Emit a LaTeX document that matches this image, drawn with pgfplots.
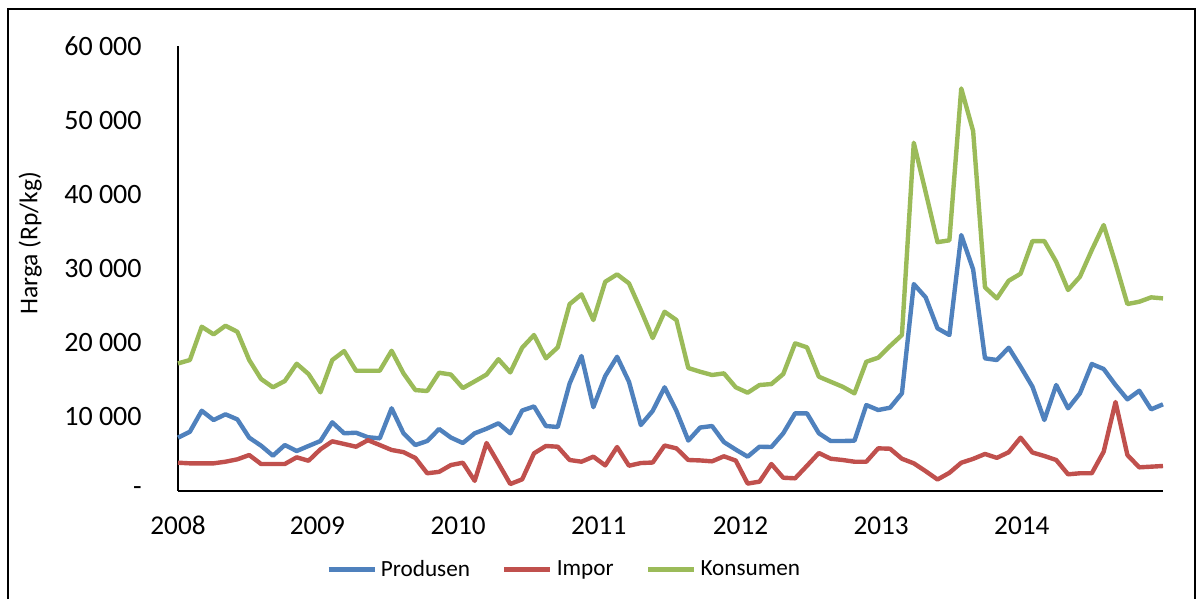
\documentclass[border=0pt]{standalone}
\usepackage{fontspec}
\setmainfont{Carlito}
\usepackage{pgfplots}
\usepackage{pgfplotstable}
\pgfplotsset{compat=1.18}
\definecolor{cblue}{HTML}{4F81BD}
\definecolor{cred}{HTML}{C0504D}
\definecolor{cgreen}{HTML}{9BBB59}

\pgfplotstableread{
i prod impor kons
0 7190 3815 17200
1 7990 3730 17660
2 10820 3730 22150
3 9570 3730 21120
4 10340 3950 22280
5 9660 4270 21470
6 7190 4850 17660
7 6110 3640 15100
8 4760 3640 13980
9 6200 3640 14830
10 5390 4540 17160
11 6070 4080 15770
12 6740 5620 13300
13 9260 6700 17660
14 7780 6340 18870
15 7860 5970 16220
16 7250 6850 16220
17 7100 6200 16220
18 11150 5530 18910
19 7780 5240 15860
20 6200 4450 13610
21 6740 2390 13480
22 8360 2580 15950
23 7200 3500 15700
24 6470 3810 13880
25 7780 1370 14780
26 8400 6470 15700
27 9130 3730 17770
28 7780 940 16000
29 10850 1570 19320
30 11400 5080 21030
31 8760 6070 17890
32 8630 5970 19370
33 14500 4180 25200
34 18200 3950 26510
35 11300 4630 23050
36 15500 3450 28210
37 18100 5930 29210
38 14730 3410 28000
39 8900 3770 24400
40 10800 3840 20620
41 13980 6130 24170
42 10800 5750 23050
43 6800 4180 16580
44 8560 4120 16080
45 8760 4000 15640
46 6600 4680 15860
47 5580 4100 13980
48 4630 1000 13250
49 5970 1260 14290
50 5930 3640 14420
51 7780 1790 15770
52 10470 1710 19910
53 10470 3400 19370
54 7780 5120 15410
55 6740 4350 14730
56 6740 4180 14060
57 6780 3950 13170
58 11590 3950 17430
59 10920 5750 17970
60 11230 5700 19550
61 13170 4350 21030
62 27900 3730 46950
63 26110 2670 40300
64 21930 1550 33550
65 21030 2450 33800
66 34510 3810 54280
67 29880 4330 48530
68 17890 4990 27460
69 17660 4470 25970
70 19320 5230 28350
71 16760 7190 29300
72 14060 5190 33700
73 9570 4720 33700
74 14290 4180 30910
75 11150 2250 27100
76 13170 2390 28890
77 17120 2390 32490
78 16450 5300 35860
79 14290 12000 30690
80 12360 4850 25210
81 13520 3190 25520
82 11010 3280 26110
83 11690 3370 25970
}\datatable

\begin{document}
\begin{tikzpicture}
\useasboundingbox (0,0) rectangle (601.5pt,299.5pt);
\begin{axis}[
  at={(89pt,54pt)}, anchor=south west,
  scale only axis, width=492.5pt, height=222.5pt,
  xmin=0, xmax=83, ymin=0, ymax=60000,
  axis x line=bottom, axis y line=left,
  axis line style={-, line width=1pt, black},
  ytick={0,10000,20000,30000,40000,50000,60000},
  yticklabels={-,10 000,20 000,30 000,40 000,50 000,60 000},
  xtick={0,11.75,23.6,35.45,47.4,59.25,71.1},
  xticklabels={2008,2009,2010,2011,2012,2013,2014},
  major tick length=0pt,
  scaled y ticks=false,
  tick label style={font=\fontsize{14}{17}\selectfont},
  xticklabel style={font=\fontsize{13.6}{16}\selectfont},
  yticklabel style={anchor=east, inner sep=0pt, xshift=-18pt},
  xticklabel style={anchor=north, inner sep=0pt, yshift=-12.5pt},
  ylabel={Harga (Rp/kg)},
  every axis y label/.style={at={(axis description cs:-0.150,0.557)}, rotate=90, anchor=center, font=\fontsize{12.8}{15}\selectfont},
  legend columns=3,
  legend style={at={(axis description cs:0.393,-0.177)}, anchor=center, draw=none, fill=none, font=\fontsize{11.6}{14}\selectfont,
    /tikz/every even column/.append style={column sep=14pt}},
  legend image code/.code={\draw[#1, line width=2.4pt] (0pt,0pt) -- (23pt,0pt);},
  every axis plot/.append style={line width=2.2pt, no markers, line join=round},
  clip=false,
]
\addplot[cblue] table[x=i, y=prod] {\datatable};
\addlegendentry{Produsen}
\addplot[cred] table[x=i, y=impor] {\datatable};
\addlegendentry{Impor}
\addplot[cgreen] table[x=i, y=kons] {\datatable};
\addlegendentry{Konsumen}
\end{axis}
\draw[line width=1pt] (4pt,0pt) -- (4pt,295pt) -- (597.5pt,295pt) -- (597.5pt,0pt);
\end{tikzpicture}
\end{document}
